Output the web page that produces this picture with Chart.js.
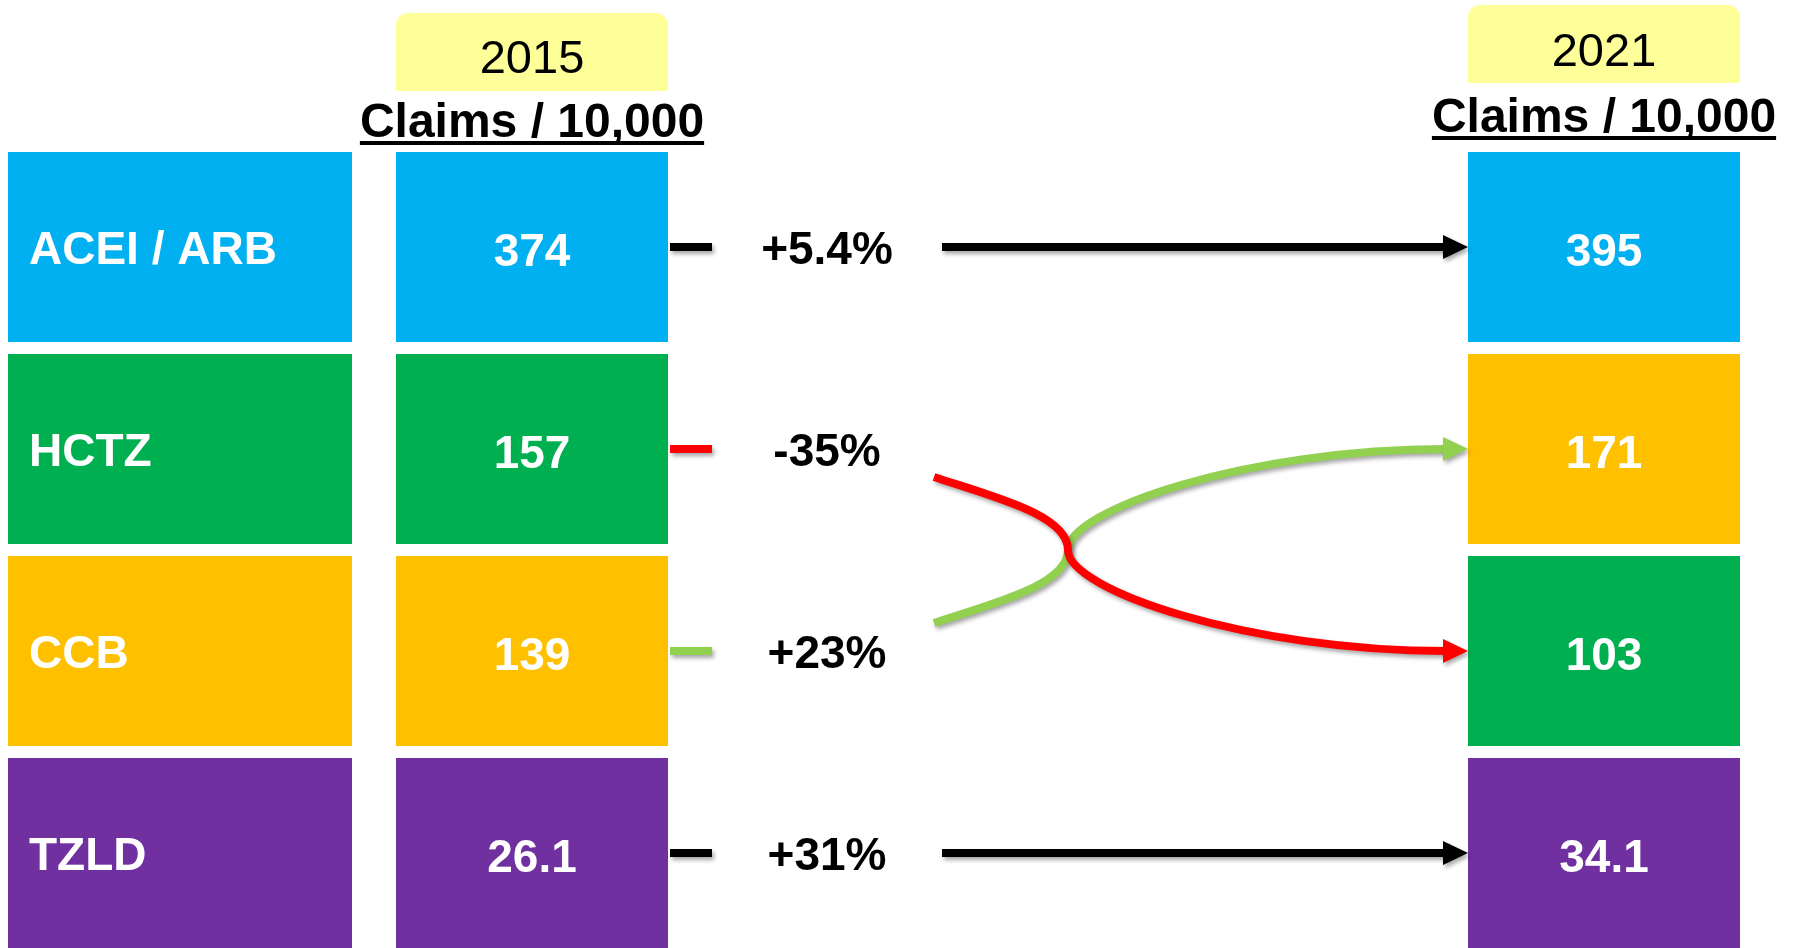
<!DOCTYPE html>
<html>
<head>
<meta charset="utf-8">
<title>Claims per 10,000: 2015 vs 2021</title>
<script src="https://cdn.jsdelivr.net/npm/chart.js@4.4.1/dist/chart.umd.min.js"></script>
<style>
  html, body { margin: 0; padding: 0; background: #fff; overflow: hidden; }
  canvas { display: block; }
</style>
</head>
<body>
<canvas id="claimsChart" width="1796" height="960"></canvas>
<script>
(function () {
  "use strict";

  // Data
  const drugs = ["ACEI / ARB", "HCTZ", "CCB", "TZLD"];
  const claims2015 = [374, 157, 139, 26.1];
  const claims2021 = [395, 103, 171, 34.1];
  const changeLabels = ["+5.4%", "-35%", "+23%", "+31%"];
  const years = ["2015", "2021"];
  const unitLabel = "Claims / 10,000";

  // Styles / layout
  const drugColors = ["#00B0F0", "#00B050", "#FFC000", "#7030A0"];
  const COLUMNS = { label: [8, 352], first: [396, 668], last: [1468, 1740] };
  const FONT = "'Liberation Sans', Arial, sans-serif";
  const HEADERS = [
    { boxTop: 13, boxBottom: 91, yearBase: 73, unitBase: 137 },
    { boxTop: 5, boxBottom: 83, yearBase: 66, unitBase: 132 },
  ];

  // 2021 column is ordered by value, largest first
  const order2021 = drugs
    .map((d, i) => i)
    .sort((a, b) => claims2021[b] - claims2021[a]);
  const rank2021 = drugs.map((d, i) => order2021.indexOf(i));

  function barBox(chart, ds, idx) {
    const el = chart.getDatasetMeta(ds).data[idx];
    const p = el.getProps(["x", "y", "base", "height"], true);
    return {
      left: Math.min(p.x, p.base),
      right: Math.max(p.x, p.base),
      y: p.y,
      h: p.height,
    };
  }

  function text(ctx, str, x, y, size, weight, color, align) {
    ctx.font = weight + " " + size + "px " + FONT;
    ctx.fillStyle = color;
    ctx.textAlign = align;
    ctx.textBaseline = "alphabetic";
    ctx.fillText(str, x, y + size * 0.36);
  }

  function arrowHead(ctx, tipX, y, color) {
    ctx.fillStyle = color;
    ctx.beginPath();
    ctx.moveTo(tipX, y);
    ctx.lineTo(tipX - 25, y - 12);
    ctx.lineTo(tipX - 25, y + 12);
    ctx.closePath();
    ctx.fill();
  }

  /**
   * Boxes text, headers and arrows
   */
  const diagramPlugin = {
    id: "diagram",
    afterDatasetsDraw(chart) {
      const ctx = chart.ctx;
      ctx.save();

      // headers
      [1, 2].forEach((ds, k) => {
        const col = barBox(chart, ds, 0);
        const h = HEADERS[k];
        ctx.fillStyle = "#FFFF99";
        ctx.beginPath();
        ctx.roundRect(col.left, h.boxTop, col.right - col.left, h.boxBottom - h.boxTop, [12, 12, 0, 0]);
        ctx.fill();
        const cx = (col.left + col.right) / 2;
        ctx.font = "47px " + FONT;
        ctx.fillStyle = "#000";
        ctx.textAlign = "center";
        ctx.textBaseline = "alphabetic";
        ctx.fillText(years[k], cx, h.yearBase);
        ctx.font = "bold 48px " + FONT;
        ctx.fillText(unitLabel, cx, h.unitBase);
        const w = ctx.measureText(unitLabel).width;
        ctx.fillRect(cx - w / 2, h.unitBase + 4, w, 4);
      });

      // box labels
      drugs.forEach((d, i) => {
        const lb = barBox(chart, 0, i);
        text(ctx, d, lb.left + 21, lb.y, 46, "bold", "#fff", "left");
        const b1 = barBox(chart, 1, i);
        text(ctx, String(claims2015[i]), (b1.left + b1.right) / 2, b1.y + 2, 46, "bold", "#fff", "center");
        const b2 = barBox(chart, 2, i);
        const j = order2021[i];
        text(ctx, String(claims2021[j]), (b2.left + b2.right) / 2, b2.y + 2, 46, "bold", "#fff", "center");
      });

      // arrows: rising first, falling last so red sits on top
      const drawOrder = drugs
        .map((d, i) => i)
        .sort((a, b) => (rank2021[a] - a) - (rank2021[b] - b));
      drawOrder.forEach((i) => {
        const from = barBox(chart, 1, i);
        const to = barBox(chart, 2, rank2021[i]);
        const move = rank2021[i] - i;
        const color = move === 0 ? "#000" : move < 0 ? "#92D050" : "#FF0000";
        const y0 = from.y;
        const y1 = to.y;
        const tipX = to.left;

        text(ctx, changeLabels[i], from.right + 159, y0, 46, "bold", "#000", "center");

        ctx.save();
        ctx.shadowColor = "rgba(0, 0, 0, 0.35)";
        ctx.shadowBlur = 4;
        ctx.shadowOffsetX = 2;
        ctx.shadowOffsetY = 3;
        ctx.strokeStyle = color;
        ctx.lineWidth = 8;
        ctx.lineCap = "butt";

        // stub
        ctx.beginPath();
        ctx.moveTo(from.right + 2, y0);
        ctx.lineTo(from.right + 44, y0);
        ctx.stroke();

        ctx.beginPath();
        if (move === 0) {
          ctx.moveTo(from.right + 274, y0);
          ctx.lineTo(tipX - 22, y1);
        } else {
          const d = move > 0 ? 1 : -1;
          const sx = from.right + 266;
          const sy = y0 + 28 * d;
          const mx = sx + 134;
          const my = (y0 + y1) / 2;
          ctx.moveTo(sx, sy);
          ctx.bezierCurveTo(sx + 60, sy + 20 * d, mx, my - 35 * d, mx, my);
          ctx.bezierCurveTo(mx, my + 40 * d, mx + 180, y1, tipX - 22, y1);
        }
        ctx.stroke();
        arrowHead(ctx, tipX, y1, color);
        ctx.restore();
      });

      ctx.restore();
    },
  };

  const ctx = document.getElementById("claimsChart");

  new Chart(ctx, {
    type: "bar",
    data: {
      labels: drugs,
      datasets: [
        {
          label: "Drug class",
          data: drugs.map(() => COLUMNS.label),
          backgroundColor: drugColors,
        },
        {
          label: years[0],
          data: drugs.map(() => COLUMNS.first),
          backgroundColor: drugColors,
        },
        {
          label: years[1],
          data: drugs.map(() => COLUMNS.last),
          backgroundColor: order2021.map((j) => drugColors[j]),
        },
      ],
    },
    options: {
      indexAxis: "y",
      responsive: false,
      animation: false,
      layout: { padding: { top: 146, bottom: 6, left: 0, right: 0 } },
      datasets: {
        bar: {
          grouped: false,
          barPercentage: 0.94,
          categoryPercentage: 1,
          borderWidth: 0,
        },
      },
      plugins: {
        legend: { display: false },
        tooltip: { enabled: false },
      },
      scales: {
        x: { type: "linear", min: 0, max: 1796, display: false },
        y: { display: false },
      },
    },
    plugins: [diagramPlugin],
  });
})();
</script>
</body>
</html>
